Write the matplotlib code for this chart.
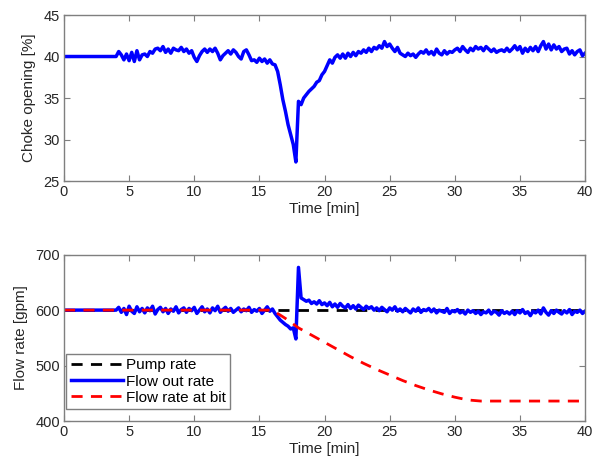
import matplotlib.pyplot as plt
import numpy as np

plt.rcParams['font.family'] = ['Liberation Sans', 'DejaVu Sans']

# time grid of the logged (noisy) part, 4 .. 40 min every 0.2 min
t_log = np.round(np.arange(4.0, 40.01, 0.2), 1)

# choke opening [%]
choke_t0 = [0.0, 4.0]
choke_v0 = [40.0, 40.0]
choke = [
    40.0, 40.6, 40.2, 39.6, 40.3, 39.5, 40.5, 39.4, 40.7, 39.6, 40.2,
    40.3, 40.0, 40.6, 40.4, 40.9, 41.0, 40.7, 41.2, 40.5, 40.9,
    40.4, 41.0, 40.8, 40.7, 41.1, 40.6, 40.9, 40.4, 40.7, 39.9,
    39.4, 40.1, 40.6, 40.9, 40.5, 40.9, 40.6, 41.0, 40.4, 39.6,
    40.1, 40.4, 40.7, 40.3, 40.8, 40.5, 40.0, 39.7, 40.6, 40.8,
    40.2, 39.5, 39.6, 39.3, 39.8, 39.4, 39.7, 39.2, 39.6, 39.1,
    39.0, 38.2, 36.6, 34.8, 33.4, 31.8, 30.6, 29.4, 27.3, 34.6,
    34.2, 35.0, 35.4, 35.8, 36.1, 36.4, 36.9, 37.1, 37.8, 38.2,
    38.9, 39.6, 39.2, 39.9, 40.2, 39.8, 40.3, 39.8, 40.4, 40.0,
    40.5, 40.1, 40.6, 40.4, 40.8, 40.5, 41.0, 40.6, 41.1, 40.9,
    41.3, 41.0, 41.8, 41.2, 41.5, 41.0, 40.6, 41.1, 40.4, 40.2,
    40.0, 40.4, 40.1, 40.3, 39.9, 40.3, 40.6, 40.4, 40.8, 40.3,
    40.6, 40.2, 40.9, 40.4, 40.2, 40.7, 40.3, 40.6, 40.5, 40.8,
    41.0, 40.6, 41.2, 40.8, 40.5, 41.0, 40.7, 41.2, 40.9, 41.1,
    40.7, 41.2, 40.9, 40.6, 40.9, 40.5, 40.7, 40.8, 40.6, 41.0,
    40.6, 40.9, 41.3, 40.8, 41.2, 40.4, 41.0, 40.6, 41.1, 40.7,
    41.2, 40.6, 41.3, 41.8, 40.9, 41.5, 40.8, 41.4, 40.9, 41.2,
    40.6, 40.9, 41.0, 40.3, 40.7, 40.2, 40.6, 40.8, 40.1, 40.4,
]

# flow out rate [gpm]
flow_t0 = [0.0, 4.0]
flow_v0 = [600, 600]
flow_out = [
    600, 605, 596, 603, 592, 607, 598, 594, 606, 597, 603,
    595, 604, 599, 607, 593, 601, 605, 597, 603, 594,
    602, 598, 606, 595, 601, 604, 596, 603, 599, 605,
    594, 600, 606, 597, 602, 595, 604, 599, 607, 596,
    601, 605, 598, 603, 596, 600, 604, 597, 602, 599,
    605, 596, 601, 598, 603, 594, 600, 606, 598, 602,
    594, 588, 582, 578, 574, 571, 566, 568, 548, 677,
    622, 619, 616, 618, 612, 615, 611, 617, 610, 613,
    608, 614, 606, 611, 605, 612, 607, 604, 610, 603,
    608, 602, 609, 605, 601, 607, 603, 606, 600, 604,
    599, 605, 601, 597, 604, 600, 606, 598, 602, 597,
    603, 599, 595, 602, 598, 604, 596, 601, 599, 603,
    597, 602, 595, 600, 598, 596, 603, 594, 599, 597,
    601, 595, 598, 593, 600, 596, 599, 594, 598, 592,
    597, 595, 600, 593, 598, 596, 591, 599, 594, 597,
    593, 598, 592, 599, 595, 601, 594, 597, 590, 598,
    595, 600, 593, 604, 596, 591, 599, 594, 600, 596,
    593, 599, 595, 601, 592, 598, 596, 600, 594, 598,
]

# pump rate and flow rate at bit [gpm]
pump_t = [0, 40]
pump_v = [600, 600]
bit_t = [0, 16, 17, 18, 19, 20, 21, 22, 23, 24, 25, 26, 27, 28, 29, 30, 31, 32, 40]
bit_v = [600, 600, 585, 568, 555, 542, 529, 516, 504, 493, 483, 473, 464, 456, 449, 443, 438, 436, 436]

grey = '#7f7f7f'
txt = '#262626'

fig = plt.figure(figsize=(5.94, 4.69), dpi=100)
ax1 = fig.add_axes([0.1077, 0.614, 0.8773, 0.354])
ax2 = fig.add_axes([0.1077, 0.1023, 0.8773, 0.3547])

ax1.plot(np.r_[choke_t0, t_log], np.r_[choke_v0, choke], color='#0000ff', lw=2.5)
ax1.set_ylim(25, 45)
ax1.set_yticks([25, 30, 35, 40, 45])
ax1.set_ylabel('Choke opening [%]', fontsize=11, color=txt, labelpad=5)

ax2.plot(pump_t, pump_v, color='black', lw=2, ls=(0, (4, 3)), label='Pump rate')
ax2.plot(np.r_[flow_t0, t_log], np.r_[flow_v0, flow_out], color='#0000ff', lw=2.5, label='Flow out rate')
ax2.plot(bit_t, bit_v, color='#ff0000', lw=2, ls=(0, (4, 3)), label='Flow rate at bit')
ax2.set_ylim(400, 700)
ax2.set_yticks([400, 500, 600, 700])
ax2.set_ylabel('Flow rate [gpm]', fontsize=11, color=txt, labelpad=5)
leg = ax2.legend(loc='lower left', bbox_to_anchor=(0.004, 0.07), borderaxespad=0,
                 fontsize=11, handlelength=3.4, labelspacing=0.15,
                 borderpad=0.3, handletextpad=0.2,
                 fancybox=False, framealpha=1, edgecolor=grey)
leg.get_frame().set_linewidth(1.0)

for ax in (ax1, ax2):
    ax.set_xlim(0, 40)
    ax.set_xticks(range(0, 41, 5))
    ax.set_xlabel('Time [min]', fontsize=11, color=txt, labelpad=2)
    ax.tick_params(direction='in', top=True, right=True, length=4, color=grey,
                   labelsize=10.5, labelcolor=txt, pad=3)
    for s in ax.spines.values():
        s.set_color(grey)
        s.set_linewidth(1.0)

fig.savefig('out.png', dpi=100)
